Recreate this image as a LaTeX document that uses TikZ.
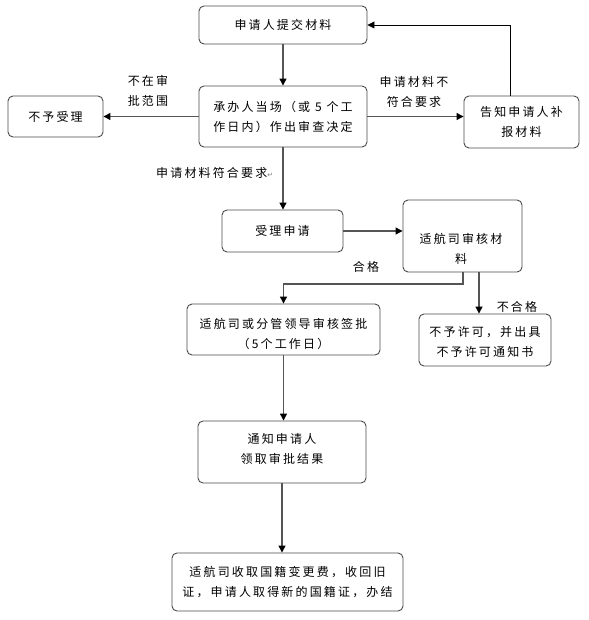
\documentclass[tikz,border=0pt]{standalone}
\usepackage{fontspec}
\setmainfont{Noto Sans CJK SC}[LetterSpace=18]
\newfontfamily\symfont{DejaVu Sans}
\usetikzlibrary{arrows.meta}
\definecolor{boxline}{HTML}{4A4A4A}
\definecolor{conn}{HTML}{555555}
\tikzset{
  box/.style={draw=boxline, line width=0.9pt, rounded corners=5pt, inner sep=0pt,
    align=center, font=\fontsize{12}{20}\selectfont},
  txt/.style={inner sep=0pt, align=center, font=\fontsize{12}{20}\selectfont},
  arr/.style={draw=conn, line width=1.2pt, -{Triangle[length=7pt,width=7pt,color=black]}},
  fb/.style={draw=black, line width=0.8pt, -{Triangle[length=7pt,width=7pt,color=black]}},
}
\begin{document}
\begin{tikzpicture}[x=1pt,y=-1pt]
\useasboundingbox (0,0) rectangle (588,620);
% boxes
\node[box, minimum width=168pt, minimum height=38pt] (submit) at (283,25) {申请人提交材料};
\node[box, minimum width=168pt, minimum height=61pt] (decide) at (283,116.5) {承办人当场（或 5 个工\\作日内）作出审查决定};
\node[box, minimum width=95pt, minimum height=41pt] (reject) at (55.5,116.5) {不予受理};
\node[box, minimum width=115pt, minimum height=52pt] (notify) at (521.5,122) {告知申请人补\\报材料};
\node[box, minimum width=121pt, minimum height=42pt] (accept) at (282.5,231) {受理申请};
\node[box, minimum width=119pt, minimum height=72pt] (review) at (462.5,236) {};
\node[txt] (reviewtxt) at (461,249) {适航司审核材\\料};
\node[box, minimum width=193pt, minimum height=51pt] (sign) at (283.5,329.5) {};
\node[txt] (signtxt) at (283.5,334) {适航司或分管领导审核签批\\（5个工作日）};
\node[box, minimum width=132pt, minimum height=52pt] (deny) at (485,340) {};
\node[txt] (denytxt) at (485,342) {不予许可，并出具\\不予许可通知书};
\node[box, minimum width=168pt, minimum height=62pt] (inform) at (282,452) {};
\node[txt] (informtxt) at (282,449) {通知申请人\\领取审批结果};
\node[box, minimum width=231pt, minimum height=58pt] (final) at (287.5,582) {适航司收取国籍变更费，收回旧\\证，申请人取得新的国籍证，办结};
% labels
\node[txt, align=left] (lblout) at (148,91) {不在审\\批范围};
\node[txt] (lblbad) at (414,92) {申请材料不\\符合要求};
\node[txt, anchor=west] (lblok) at (156,173) {申请材料符合要求{\symfont\fontsize{7}{8}\selectfont\color{gray}↵}};
\node[txt] (lblpass) at (366,267) {合格};
\node[txt] (lblfail) at (517,307) {不合格};
% connectors
\draw[arr] (submit.south) -- (decide.north);
\draw[arr] (decide.west) -- (decide.west -| reject.east);
\draw[arr] (decide.east) -- (decide.east -| notify.west);
\draw[fb] ([xshift=-11.5pt]notify.north) |- (submit.east);
\draw[arr] (decide.south) -- (decide.south |- accept.north);
\draw[arr] (accept.east) -- (accept.east -| review.west);
\coordinate (rv1) at ([xshift=0.5pt]review.south);
\coordinate (bend) at (463,284);
\draw[arr] (rv1) -- (bend) -| (sign.north);
\coordinate (rv2) at ([xshift=16.5pt]review.south);
\draw[arr] (rv2) -- (rv2 |- deny.north);
\draw[arr] (sign.south) -- (sign.south |- inform.north);
\draw[arr] (inform.south) -- (inform.south |- final.north);
\end{tikzpicture}
\end{document}
